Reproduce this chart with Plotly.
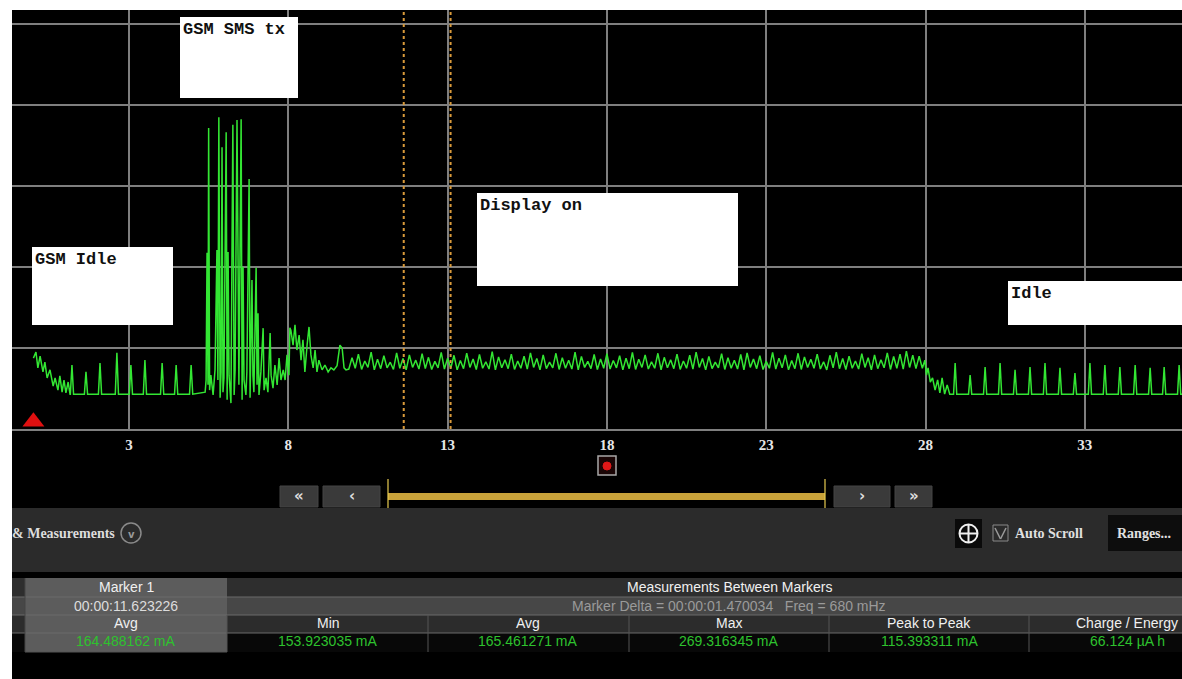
import plotly.graph_objects as go

# ---------------- data ----------------
tick_vals = [3, 8, 13, 18, 23, 28, 33]
tick_text = ["3", "8", "13", "18", "23", "28", "33"]

idle_baseline_ma = 86

start_t = [0.00, 0.08, 0.14, 0.21, 0.30, 0.36, 0.43, 0.52, 0.62, 0.68, 0.77, 0.83, 0.90, 0.96, 1.02, 1.09, 1.15]
start_ma = [175, 190, 151, 180, 141, 165, 126, 146, 106, 126, 96, 131, 91, 121, 89, 116, 86]

idle1_spike_t = [1.21, 1.65, 2.09, 2.62, 3.06, 3.50, 4.04, 4.48, 4.95]
idle1_spike_ma = [158, 141, 163, 188, 158, 170, 163, 158, 158]

sms_t = [5.39, 5.42, 5.45, 5.48, 5.50, 5.53, 5.57, 5.64, 5.70, 5.76, 5.79, 5.82, 5.86, 5.89, 5.92,
         5.95, 5.98, 6.05, 6.08, 6.11, 6.14, 6.20, 6.26, 6.30, 6.33, 6.39, 6.42, 6.45, 6.52, 6.55,
         6.58, 6.61, 6.67, 6.70, 6.77, 6.80, 6.86, 6.89, 6.92, 6.99, 7.02, 7.05, 7.08, 7.14, 7.21,
         7.24, 7.30, 7.36, 7.43, 7.46, 7.52, 7.58, 7.65, 7.71, 7.77, 7.84, 7.90, 7.96, 8.02, 8.05,
         8.08, 8.15, 8.21, 8.27, 8.34, 8.40, 8.46, 8.52, 8.59, 8.65, 8.71, 8.78, 8.84, 8.90, 8.96,
         9.06, 9.15, 9.25, 9.34, 9.43, 9.53, 9.62, 9.69, 9.75, 9.81]
sms_ma = [91, 121, 435, 109, 743, 96, 133, 84, 146, 442, 121, 770, 77, 141, 696,
          91, 126, 733, 72, 437, 133, 64, 751, 84, 146, 763, 454, 109, 765, 72,
          400, 121, 84, 141, 617, 77, 368, 133, 91, 398, 109, 286, 84, 141, 249,
          96, 126, 91, 237, 133, 101, 158, 109, 175, 121, 146, 121, 183, 133, 250,
          244, 207, 257, 195, 232, 170, 220, 141, 207, 252, 183, 151, 195, 141, 170,
          146, 158, 141, 151, 146, 156, 207, 200, 151, 146]

display_t0 = 9.9
display_dt = 0.1
display_ma = [
    148, 176, 150, 185, 147, 168, 152, 190, 146, 172, 149, 181, 151, 165, 147, 188, 150, 174, 146, 183,
    152, 170, 148, 186, 149, 177, 147, 167, 151, 189, 148, 175, 150, 182, 146, 169, 149, 187, 152, 173,
    147, 184, 150, 166, 148, 191, 146, 178, 151, 171, 149, 185, 147, 168, 150, 180, 148, 188, 152, 174,
    146, 183, 149, 165, 151, 187, 147, 176, 150, 170, 148, 190, 146, 179, 152, 167, 149, 184, 147, 173,
    150, 186, 148, 169, 151, 181, 146, 175, 149, 189, 147, 172, 152, 183, 148, 166, 150, 187, 146, 177,
    151, 171, 149, 185, 147, 168, 150, 182, 148, 190, 152, 174, 146, 179, 149, 165, 151, 186, 147, 176,
    150, 170, 148, 184, 146, 188, 152, 173, 149, 181, 147, 167, 150, 189, 148, 175, 151, 183, 146, 169,
    149, 187, 147, 178, 152, 172, 150, 185, 148, 166, 146, 182, 151, 190, 149, 174, 147, 180, 150, 168,
    148, 186, 152, 176, 146, 183, 149, 171, 151, 188, 147, 179, 150, 185, 148, 192, 152, 182, 149, 180,
    150]

drop_t = [27.98, 28.03, 28.08, 28.15, 28.22, 28.30, 28.38, 28.45, 28.52, 28.60, 28.68, 28.76]
drop_ma = [170, 133, 151, 116, 126, 96, 121, 89, 126, 86, 109, 86]

idle2_spike_t = [28.93, 29.40, 29.87, 30.34, 30.81, 31.28, 31.75, 32.22, 32.69, 33.16, 33.63, 34.10,
                 34.58, 35.05, 35.49, 35.96]
idle2_spike_ma = [163, 133, 153, 163, 146, 153, 163, 151, 138, 163, 158, 153, 158, 151, 153, 158]
trace_end_t = 36.1

spike_half_width = 0.05

marker1_t = 11.623226
marker_delta_s = 1.470034

marker_col = ["Marker 1", "00:00:11.623226", "Avg", "164.488162 mA"]
between_title = "Measurements Between Markers"
delta_text = "Marker Delta = 00:00:01.470034   Freq = 680 mHz"
stat_names = ["Min", "Avg", "Max", "Peak to Peak", "Charge / Energy"]
stat_values = ["153.923035 mA", "165.461271 mA", "269.316345 mA", "115.393311 mA", "66.124 µA h"]

box_labels = ["GSM SMS tx", "GSM Idle", "Display on", "Idle"]

assert len(sms_t) == len(sms_ma)
assert len(drop_t) == len(drop_ma)

# ---------------- build trace ----------------
t_all, y_all = [], []
t_all += start_t
y_all += start_ma
for t, p in zip(idle1_spike_t, idle1_spike_ma):
    t_all += [t - spike_half_width, t, t + spike_half_width]
    y_all += [idle_baseline_ma, p, idle_baseline_ma]
t_all += sms_t
y_all += sms_ma
t_all += [round(display_t0 + i * display_dt, 3) for i in range(len(display_ma))]
y_all += display_ma
t_all += drop_t
y_all += drop_ma
for t, p in zip(idle2_spike_t, idle2_spike_ma):
    t_all += [t - spike_half_width, t, t + spike_half_width]
    y_all += [idle_baseline_ma, p, idle_baseline_ma]
t_all.append(trace_end_t)
y_all.append(idle_baseline_ma)

# ---------------- layout geometry (pixels) ----------------
W, H = 1182, 679
PL, PT, PB = 12, 10, 429  # plot left / top / bottom in px
X_RANGE = [-0.672, 36.05]
Y_RANGE = [0, 1034.6]


def PX(x):
    return (x - PL) / (W - PL)


def PY(y):
    return (PB - y) / (PB - PT)


shapes = []
annotations = []


def rect(x0, y0, x1, y1, fill, line=None, lw=0):
    shapes.append(dict(type="rect", xref="paper", yref="paper", x0=PX(x0), x1=PX(x1),
                       y0=PY(y1), y1=PY(y0), fillcolor=fill,
                       line=dict(color=line or fill, width=lw), layer="above"))


def seg(x0, y0, x1, y1, color, lw=1, dash="solid"):
    shapes.append(dict(type="line", xref="paper", yref="paper", x0=PX(x0), x1=PX(x1),
                       y0=PY(y0), y1=PY(y1), line=dict(color=color, width=lw, dash=dash),
                       layer="above"))


def circ(cx, cy, r, color, lw=1.5, fill="rgba(0,0,0,0)"):
    shapes.append(dict(type="circle", xref="paper", yref="paper", x0=PX(cx - r), x1=PX(cx + r),
                       y0=PY(cy + r), y1=PY(cy - r), fillcolor=fill,
                       line=dict(color=color, width=lw), layer="above"))


def text(x, y, s, size, color, family, xanchor="center", yanchor="middle"):
    annotations.append(dict(xref="paper", yref="paper", x=PX(x), y=PY(y), text=s,
                            showarrow=False, xanchor=xanchor, yanchor=yanchor,
                            font=dict(size=size, color=color, family=family)))


SERIF = "Liberation Serif, DejaVu Serif, serif"
MONO = "Liberation Mono, DejaVu Sans Mono, monospace"
SANS_N = "Liberation Sans Narrow, Arial Narrow, Liberation Sans, Arial, sans-serif"

# white borders
rect(0, 0, W, PT, "white")
rect(0, 0, PL, H, "white")

# annotation boxes in plot
boxes = [(180, 17, 298, 98), (32, 247, 173, 325), (477, 193, 738, 286), (1008, 281, 1182, 325)]
for (x0, y0, x1, y1), lab in zip(boxes, box_labels):
    rect(x0, y0, x1, y1, "white")
    text(x0 + 1, y0 + 1, "<b>" + lab + "</b>", 17, "#111111", MONO, xanchor="left", yanchor="top")

# marker icon under 18
rect(598, 456, 616, 475, "#1a0505", "#a8a8a8", 1.5)
circ(607, 466, 4, "#e01818", 1, "#e01818")

# scroll bar
for (x0, x1, s) in [(280, 318, "«"), (323, 380, "‹"), (834, 890, "›"), (895, 932, "»")]:
    rect(x0, 486, x1, 507, "#3a3a3a", "#444444", 1)
    text((x0 + x1) / 2, 496, "<b>" + s + "</b>", 15, "#dddddd", "DejaVu Sans")
rect(388, 493, 825, 500, "#c9a23a")
seg(388, 479, 388, 511, "#e8cc50", 1.2)
seg(825, 479, 825, 511, "#e8cc50", 1.2)

# gray control panel
rect(PL, 508, W, 572, "#2b2b2b")
text(117, 533, "<b>&amp; Measurements</b>", 14, "#dddddd", SERIF, xanchor="right")
circ(131, 533, 10, "#8a8a8a", 1.5)
text(131, 534, "<b>v</b>", 10, "#9a9a9a", "DejaVu Sans")
rect(955, 519, 982, 548, "#0a0a0a")
circ(968.5, 533.5, 9, "#f0f0f0", 2)
seg(959.5, 533.5, 977.5, 533.5, "#f0f0f0", 2)
seg(968.5, 524.5, 968.5, 542.5, "#f0f0f0", 2)
rect(993, 525, 1008, 541, "#2b2b2b", "#8a8a8a", 1)
seg(995, 528, 1000.5, 539, "#9a9a9a", 1.5)
seg(1000.5, 539, 1006, 528, "#9a9a9a", 1.5)
text(1013, 533, "<b>Auto Scroll</b>", 14, "#e0e0e0", SERIF, xanchor="left")
rect(1108, 515, W, 551, "#0d0d0d")
text(1115, 533, "<b>Ranges...</b>", 14, "#e0e0e0", SERIF, xanchor="left")

# measurement table
rows = [(578, 597, "#2e2e2e"), (597, 615, "#474747"), (615, 633, "#2c2c2c"), (633, 652, "#080808")]
for (y0, y1, c) in rows:
    rect(PL, y0, W, y1, c)
rect(25, 578, 227, 652, "#5c5c5c")
for y in [597, 615, 633]:
    seg(PL, y, W, y, "#6a6a6a", 1)
seg(25, 652, 227, 652, "#555555", 1)
for x in [227, 428, 629, 829, 1029]:
    seg(x, 615, x, 652, "#555555", 1)
seg(25, 578, 25, 652, "#444444", 1)

row_y = [587, 606, 623, 641]
mc_colors = ["#f0f0f0", "#dcdcdc", "#f0f0f0", "#2ec22e"]
for s, y, c in zip(marker_col, row_y, mc_colors):
    text(126, y, s, 14, c, SANS_N)
text(729, 587, between_title, 14, "#f0f0f0", SANS_N)
text(729, 606, delta_text, 14, "#9a9a9a", SANS_N)
col_centers = [328, 528, 729, 929, 1127]
for cx, nm, val in zip(col_centers, stat_names, stat_values):
    text(cx, 623, nm, 14, "#f0f0f0", SANS_N)
    text(cx, 641, val, 14, "#2ec22e", SANS_N)

# marker lines (data coords)
for mt in [marker1_t, marker1_t + marker_delta_s]:
    shapes.append(dict(type="line", xref="x", yref="paper", x0=mt, x1=mt, y0=0, y1=1,
                       line=dict(color="#d99a3a", width=2, dash="dot"), layer="above"))

fig = go.Figure()
fig.add_trace(go.Scatter(x=t_all, y=y_all, mode="lines",
                         line=dict(color="#33e633", width=1.5), hoverinfo="skip",
                         showlegend=False))
fig.add_trace(go.Scatter(x=[0], y=[18], mode="markers", cliponaxis=False,
                         marker=dict(symbol="triangle-up", size=19, color="#e01010"),
                         hoverinfo="skip", showlegend=False))

fig.update_layout(
    width=W, height=H,
    margin=dict(l=PL, r=0, t=PT, b=H - PB, pad=0),
    paper_bgcolor="black", plot_bgcolor="black",
    shapes=shapes, annotations=annotations,
    showlegend=False,
    xaxis=dict(range=X_RANGE, tickvals=tick_vals, ticktext=tick_text,
               showgrid=True, gridcolor="#7f7f7f", gridwidth=2, zeroline=False,
               showline=True, linecolor="#7f7f7f", linewidth=2,
               ticks="outside", ticklen=1, tickcolor="black",
               tickfont=dict(family=SERIF, size=15, color="#e6e6e6", weight="bold"),
               fixedrange=True),
    yaxis=dict(range=Y_RANGE, tick0=0, dtick=200, showticklabels=False,
               showgrid=True, gridcolor="#7f7f7f", gridwidth=2, zeroline=False,
               fixedrange=True),
)

fig.write_html("out.html", config={"displayModeBar": False},
               post_script="document.body.style.margin='0px';document.body.style.overflow='hidden';")
